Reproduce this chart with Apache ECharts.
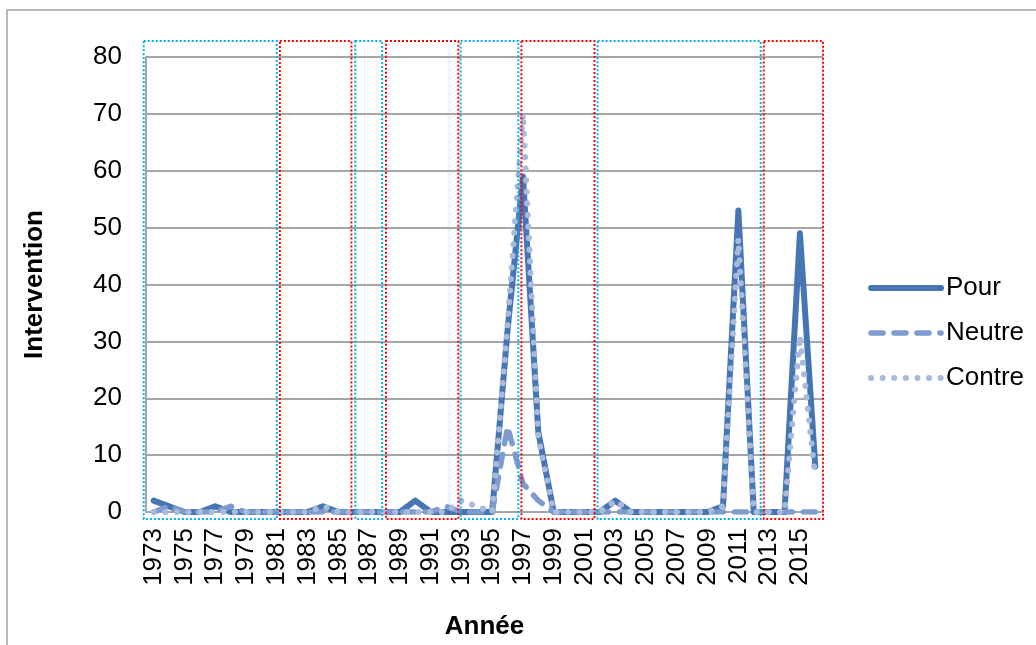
<!DOCTYPE html>
<html>
<head>
<meta charset="utf-8">
<script src="https://cdn.jsdelivr.net/npm/echarts@6/dist/echarts.min.js"></script>
<style>html,body{margin:0;padding:0;background:#fff;}#c{width:1036px;height:645px;}</style>
</head>
<body>
<div id="c"></div>
<script>
var years = [];
for (var y = 1973; y <= 2016; y++) years.push(String(y));

var pour   = [2,1,0,0,1,0,0,0,0,0,0,1,0,0,0,0,0,2,0,0,0,0,0,32,59,14,0,0,0,0,2,0,0,0,0,0,0,1,53,0,0,0,49,8];
var neutre = [0,1,0,0,0,1,0,0,0,0,0,0,0,0,0,0,0,0,0,1,0,0,0,15,5,2,0,0,0,0,0,0,0,0,0,0,0,0,0,0,0,0,0,0];
var contre = [0,0,0,0,0,0,0,0,0,0,0,1,0,0,0,0,0,0,0,0,2,1,0,33,70,13,0,0,0,0,2,0,0,0,0,0,0,1,48,0,0,0,31,6];

var yTicks = {min: 0, max: 80, interval: 10};

// periods in category units (category i spans [i, i+1])
var periods = [
  [-0.15, 8.5, 'blue'],
  [8.7, 13.35, 'red'],
  [13.6, 15.35, 'blue'],
  [15.6, 20.3, 'red'],
  [20.45, 24.2, 'blue'],
  [24.4, 29.15, 'red'],
  [29.35, 39.95, 'blue'],
  [40.15, 44.0, 'red']
];

var colors = {Pour: '#4675B3', Neutre: '#7D9BCD', Contre: '#A8BBDB'};
var boxColors = {blue: '#00B0F0', red: '#FF0000'};
var FONT = "'Liberation Sans', Arial, sans-serif";
var widths = {Pour: 6, Neutre: 5.5, Contre: 6};

var chart = echarts.init(document.getElementById('c'), null, {renderer: 'canvas'});
chart.setOption({
  animation: false,
  backgroundColor: '#fff',
  graphic: [{
    type: 'rect', silent: true, z: 0,
    shape: {x: 7, y: 10, width: 1200, height: 800},
    style: {fill: 'none', stroke: '#A0A0A0', lineWidth: 1.5}
  }],
  grid: {left: 146, right: 213, top: 57, bottom: 129, containLabel: false},
  legend: {
    orient: 'vertical', left: 863, top: 270,
    itemWidth: 70, itemHeight: 26, itemGap: 19,
    itemStyle: {opacity: 0},
    textStyle: {fontFamily: FONT, fontSize: 26, color: '#000'},
    data: [
      {name: 'Pour', lineStyle: {width: widths.Pour}},
      {name: 'Neutre', lineStyle: {width: widths.Neutre}},
      {name: 'Contre', lineStyle: {width: widths.Contre}}
    ]
  },
  xAxis: [{
    type: 'category', data: years, boundaryGap: true,
    name: 'Année', nameLocation: 'middle', nameGap: 102,
    nameTextStyle: {fontFamily: FONT, fontSize: 26, fontWeight: 'bold', color: '#000'},
    axisLine: {show: true, lineStyle: {color: '#A6A6A6', width: 2}},
    axisTick: {show: false},
    axisLabel: {interval: 1, rotate: 90, margin: 16, fontFamily: FONT, fontSize: 26, color: '#000'},
    splitLine: {show: false}
  }, {
    type: 'value', min: 0, max: 44, show: false
  }],
  yAxis: [{
    type: 'value', min: yTicks.min, max: yTicks.max, interval: yTicks.interval,
    name: 'Intervention', nameLocation: 'middle', nameGap: 98, nameRotate: 90,
    nameTextStyle: {fontFamily: FONT, fontSize: 26, fontWeight: 'bold', color: '#000'},
    axisLine: {show: true, lineStyle: {color: '#A6A6A6', width: 2}},
    axisTick: {show: false},
    axisLabel: {margin: 24, fontFamily: FONT, fontSize: 26, color: '#000'},
    splitLine: {show: true, lineStyle: {color: '#A6A6A6', width: 2}}
  }],
  series: [{
    name: 'Pour', type: 'line', data: pour, symbol: 'none', z: 3,
    color: colors.Pour,
    lineStyle: {width: widths.Pour, color: colors.Pour, cap: 'round', join: 'round'}
  }, {
    name: 'Neutre', type: 'line', data: neutre, symbol: 'none', z: 4,
    color: colors.Neutre,
    lineStyle: {width: widths.Neutre, color: colors.Neutre, type: [12, 11], cap: 'round', join: 'round'}
  }, {
    name: 'Contre', type: 'line', data: contre, symbol: 'none', z: 5,
    color: colors.Contre,
    lineStyle: {width: widths.Contre, color: colors.Contre, type: [0.1, 11.5], cap: 'round', join: 'round'}
  }, {
    type: 'custom', xAxisIndex: 1, yAxisIndex: 0, z: 10, clip: false, silent: true,
    data: periods.map(function (p) { return [p[0], p[1], p[2]]; }),
    renderItem: function (params, api) {
      var p0 = api.coord([api.value(0), yTicks.max]);
      var p1 = api.coord([api.value(1), yTicks.min]);
      var top = p0[1] - 16, bottom = p1[1] + 7;
      return {
        type: 'rect',
        shape: {x: p0[0], y: top, width: p1[0] - p0[0], height: bottom - top},
        style: {fill: 'none', stroke: boxColors[periods[params.dataIndex][2]], lineWidth: 2, lineDash: [2, 2]}
      };
    }
  }]
});
</script>
</body>
</html>
